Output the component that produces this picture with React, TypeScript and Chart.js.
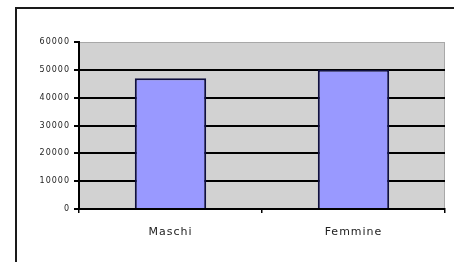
import React, { useEffect, useRef } from "react";
import { Chart, registerables } from "chart.js";

Chart.register(...registerables);

const categories = ["Maschi", "Femmine"];
const values = [47000, 50000];
const yMin = 0;
const yMax = 60000;
const yStep = 10000;

const framePlugin = {
  id: "frame",
  beforeDraw(chart: any) {
    const { ctx, chartArea } = chart;
    ctx.save();
    ctx.fillStyle = "#ffffff";
    ctx.fillRect(0, 0, chart.width, chart.height);
    ctx.strokeStyle = "#1a1a1a";
    ctx.lineWidth = 2;
    ctx.strokeRect(16, 8, 600, 400);
    ctx.fillStyle = "#d2d2d2";
    ctx.fillRect(chartArea.left, chartArea.top, chartArea.right - chartArea.left, chartArea.bottom - chartArea.top);
    ctx.strokeStyle = "#a8a8a8";
    ctx.lineWidth = 1;
    ctx.strokeRect(chartArea.left + 0.5, chartArea.top + 0.5, chartArea.right - chartArea.left - 1, chartArea.bottom - chartArea.top);
    ctx.restore();
    (ctx as any).letterSpacing = "1px";
  },
};

export default function App() {
  const ref = useRef<HTMLCanvasElement>(null);
  useEffect(() => {
    const chart = new Chart(ref.current!, {
      type: "bar",
      data: {
        labels: categories,
        datasets: [
          {
            data: values,
            backgroundColor: "#9999ff",
            borderColor: "#101040",
            borderWidth: 2,
            borderSkipped: "bottom",
            barPercentage: 1,
            categoryPercentage: 0.39,
          },
        ],
      },
      options: {
        animation: false,
        responsive: false,
        devicePixelRatio: 1,
        layout: { padding: { left: 0, top: 42, right: 9, bottom: 0 } },
        plugins: { legend: { display: false }, tooltip: { enabled: false } },
        scales: {
          x: {
            afterFit: (s: any) => {
              s.height = 53;
            },
            grid: {
              display: true,
              offset: true,
              drawOnChartArea: false,
              drawTicks: true,
              tickLength: 4,
              tickColor: "#000",
              lineWidth: 1.5,
            },
            border: { display: true, color: "#000", width: 2 },
            ticks: {
              color: "#222",
              font: { family: "DejaVu Sans", size: 11 },
              padding: 13,
            },
          },
          y: {
            min: yMin,
            max: yMax,
            afterFit: (s: any) => {
              s.width = 79;
            },
            grid: {
              color: (c: any) => (c.tick && c.tick.value === yMax ? "rgba(0,0,0,0)" : "#000"),
              lineWidth: 2,
              tickLength: 5,
              tickColor: "#000",
            },
            border: { display: true, color: "#000", width: 2 },
            ticks: {
              stepSize: yStep,
              color: "#222",
              font: { family: "DejaVu Sans", size: 8 },
              padding: 4,
              callback: (v: any) => String(v),
            },
          },
        },
      },
      plugins: [framePlugin],
    });
    return () => chart.destroy();
  }, []);
  return (
    <div style={{ position: "absolute", left: 0, top: 0, width: 454, height: 262 }}>
      <canvas ref={ref} width={454} height={262} />
    </div>
  );
}
